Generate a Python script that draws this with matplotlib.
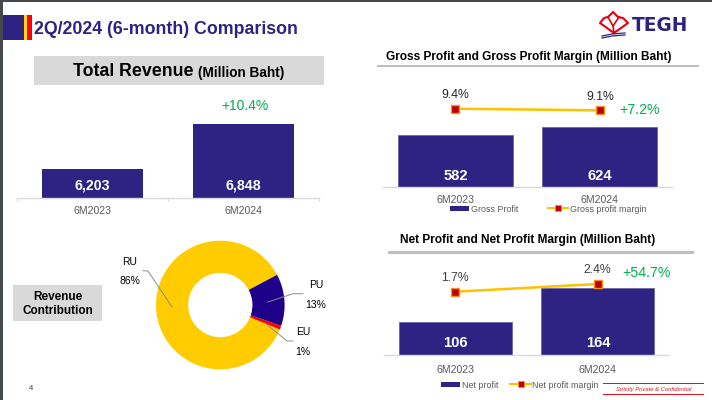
import matplotlib
matplotlib.use('Agg')
import matplotlib.pyplot as plt
from matplotlib.patches import Rectangle

plt.rcParams['font.family'] = ['Liberation Sans', 'DejaVu Sans']

W, H = 712, 400
NAVY = '#2E2382'
GREEN = '#00B050'
GRIS_TXT = '#595959'
AMARILLO = '#FFC000'
ROJO = '#C00000'

# Datos
periodos = ['6M2023', '6M2024']
ingresos = [6203, 6848]
ingresos_txt = ['6,203', '6,848']
utilidad_bruta = [582, 624]
margen_bruto = [9.4, 9.1]
utilidad_neta = [106, 164]
margen_neto = [1.7, 2.4]
segmentos = ['RU', 'EU', 'PU']
participacion = [86, 1, 13]

fig = plt.figure(figsize=(W / 100, H / 100), dpi=100, facecolor='white')


def ejes_px(x0, y0, x1, y1, **kw):
    return fig.add_axes([x0 / W, 1 - y1 / H, (x1 - x0) / W, (y1 - y0) / H], **kw)


# Capa para textos y adornos en pixeles
capa = fig.add_axes([0, 0, 1, 1], zorder=5)
capa.set_xlim(0, W)
capa.set_ylim(H, 0)
capa.axis('off')
capa.patch.set_alpha(0)


def rect(x0, y0, x1, y1, color):
    capa.add_patch(Rectangle((x0, y0), x1 - x0, y1 - y0, color=color, lw=0))


def texto(x, y, s, size, color='black', weight='normal', ha='center', **kw):
    capa.text(x, y, s, fontsize=size, color=color, fontweight=weight, ha=ha, va='center', **kw)


# Marco y encabezado
rect(0, 0, W, 2, '#45484C')
rect(0, 0, 3, H, '#45484C')
rect(3, 15, 24, 40, NAVY)
rect(24, 15, 27, 40, '#FFD800')
rect(27, 15, 32, 40, '#FF0000')
texto(34, 30, '2Q/2024 (6-month) Comparison', 12.8, NAVY, 'bold', ha='left')

# Logo
rojo_logo = '#E60012'
capa.plot([614, 600, 604, 608, 613, 618, 623, 628, 614], [33, 23, 18, 17, 12, 17, 18, 23, 33], color=rojo_logo, lw=1.5)
capa.plot([608, 613, 619], [17, 26, 17], color=rojo_logo, lw=1.2)
capa.plot([613, 614], [26, 33], color=rojo_logo, lw=1.2)
capa.plot([602, 612, 625], [38, 36, 35], color=NAVY, lw=0.9)
capa.plot([602, 612, 625], [36, 34, 33], color=NAVY, lw=0.9)
capa.text(632, 25.5, 'TEGH', fontsize=13.4, color=NAVY, fontweight='bold', ha='left', va='center',
          family='DejaVu Sans')

# Total revenue
rect(34, 56, 324, 85, '#D9D9D9')
capa.text(73, 71, 'Total Revenue', fontsize=12.75, fontweight='bold', ha='left', va='center')
capa.text(198, 73, '(Million Baht)', fontsize=9.8, fontweight='bold', ha='left', va='center')
texto(245, 106, '+10.4%', 10, GREEN)

ax = ejes_px(17, 90, 319, 197.5)
ax.bar(periodos, ingresos, width=0.67, color=NAVY)
ax.set_xlim(-0.5, 1.5)
ax.set_ylim(5794, 5794 + 107.5 * 14.33)
ax.set_yticks([])
for s in ['top', 'left', 'right']:
    ax.spines[s].set_visible(False)
ax.spines['bottom'].set_color('#D9D9D9')
ax.spines['bottom'].set_linewidth(1)
ax.set_xticks([-0.5, 0.5, 1.5], minor=True)
ax.tick_params(axis='x', which='minor', length=2, color='#D9D9D9', width=0.8)
ax.tick_params(axis='x', which='major', length=0, pad=6, labelsize=7.6, labelcolor=GRIS_TXT)
for i, t in enumerate(ingresos_txt):
    texto(92.5 + 150.7 * i, 186, t, 10.2, 'white', 'bold')


def combo(x0, x1, top, base, y_min, px_valor, m_min, px_margen, valores, margenes, desfase):
    # barras con eje truncado y margen en eje gemelo
    alto = base - top
    ax = ejes_px(x0, top, x1, base)
    ax.bar(periodos, valores, width=0.795, color=NAVY, edgecolor='#6A64A8', lw=0.6)
    ax.set_xlim(-0.5, 1.5)
    ax.set_ylim(y_min, y_min + alto * px_valor)
    ax.set_yticks([])
    for s in ['top', 'left', 'right']:
        ax.spines[s].set_visible(False)
    ax.spines['bottom'].set_color('#D9D9D9')
    ax.spines['bottom'].set_linewidth(1)
    ax.tick_params(axis='x', length=0, pad=desfase, labelsize=7.6, labelcolor=GRIS_TXT)
    ax2 = ax.twinx()
    ax2.plot(periodos, margenes, color=AMARILLO, lw=1.8, marker='s', ms=5.2, mfc=ROJO, mec='#F7941D', mew=1)
    ax2.set_ylim(m_min, m_min + alto * px_margen)
    ax2.axis('off')


# Utilidad bruta
rect(377, 64.5, 699, 67, '#BFBFBF')
texto(529, 57, 'Gross Profit and Gross Profit Margin (Million Baht)', 8.55, 'black', 'bold')
combo(383, 672, 75, 187, 309, 5.25, -5.28, 0.1875, utilidad_bruta, margen_bruto, 5.5)
for i, t in enumerate(utilidad_bruta):
    texto(455.5 + 144.5 * i, 176, str(t), 10.6, 'white', 'bold')
texto(455.5, 95, '9.4%', 8.8, '#262626')
texto(600, 97, '9.1%', 8.8, '#262626')
texto(640, 110, '+7.2%', 10.2, GREEN)
rect(450, 206, 469, 211, NAVY)
texto(471, 209.5, 'Gross Profit', 6.4, GRIS_TXT, ha='left')
capa.plot([548, 568], [208, 208], color=AMARILLO, lw=1.5)
capa.plot([558], [208], marker='s', ms=4, mfc=ROJO, mec='#F7941D', mew=0.6, lw=0)
texto(570, 209.5, 'Gross profit margin', 6.4, GRIS_TXT, ha='left')

# Utilidad neta
rect(388, 251, 694, 253.7, '#BFBFBF')
texto(528, 240, 'Net Profit and Net Profit Margin (Million Baht)', 8.55, 'black', 'bold')
combo(384, 669, 258, 355, 49.7, 1.706, 1.7 - (355 - 291.7) * 0.0909, 0.0909, utilidad_neta, margen_neto, 7)
for i, t in enumerate(utilidad_neta):
    texto(455 + 143 * i, 343, str(t), 10.6, 'white', 'bold')
texto(455, 278, '1.7%', 8.8, '#404040')
texto(597, 270, '2.4%', 8.8, '#404040')
texto(646, 273, '+54.7%', 10.2, GREEN)
rect(441, 382, 460, 387, NAVY)
texto(462, 385, 'Net profit', 6.4, GRIS_TXT, ha='left')
capa.plot([510, 531], [384, 384], color=AMARILLO, lw=1.5)
capa.plot([520.5], [384], marker='s', ms=4, mfc=ROJO, mec='#F7941D', mew=0.6, lw=0)
texto(532, 385, 'Net profit margin', 6.4, GRIS_TXT, ha='left')

# Dona de ingresos
R = 64.3
ax = ejes_px(220.3 - R, 305 - R, 220.3 + R, 305 + R)
ax.pie(participacion, startangle=28, colors=['#FFCC00', '#FF0000', '#1F0088'], radius=1,
       wedgeprops={'width': 0.5, 'lw': 0})
ax.set_xlim(-1, 1)
ax.set_ylim(-1, 1)
rect(13, 285, 102, 321, '#D9D9D9')
texto(57.5, 297, 'Revenue', 8.5, 'black', 'bold')
texto(57.5, 311, 'Contribution', 8.5, 'black', 'bold')
texto(129.5, 262, segmentos[0], 7.5)
texto(129.5, 281, '86%', 7.5)
texto(316, 285, segmentos[2], 7.5)
texto(316, 305, '13%', 7.5)
texto(303, 332, segmentos[1], 7.5)
texto(303, 352, '1%', 7.5)
capa.plot([143, 148, 172], [270.7, 271, 307], color='#8C8C8C', lw=0.7)
capa.plot([303, 293, 268], [293.7, 293.7, 302], color='#8C8C8C', lw=0.7)
capa.plot([293, 287, 265], [341, 341, 323], color='#8C8C8C', lw=0.7)

# Pie de pagina
texto(31, 388, '4', 5.5, '#404040')
rect(603, 382.5, 704, 383.7, '#E0141E')
rect(603, 394, 704, 395.2, '#E0141E')
texto(654, 389, 'Strictly Private & Confidential', 4.2, '#E0141E', style='italic')

plt.savefig('out.png', dpi=100)
